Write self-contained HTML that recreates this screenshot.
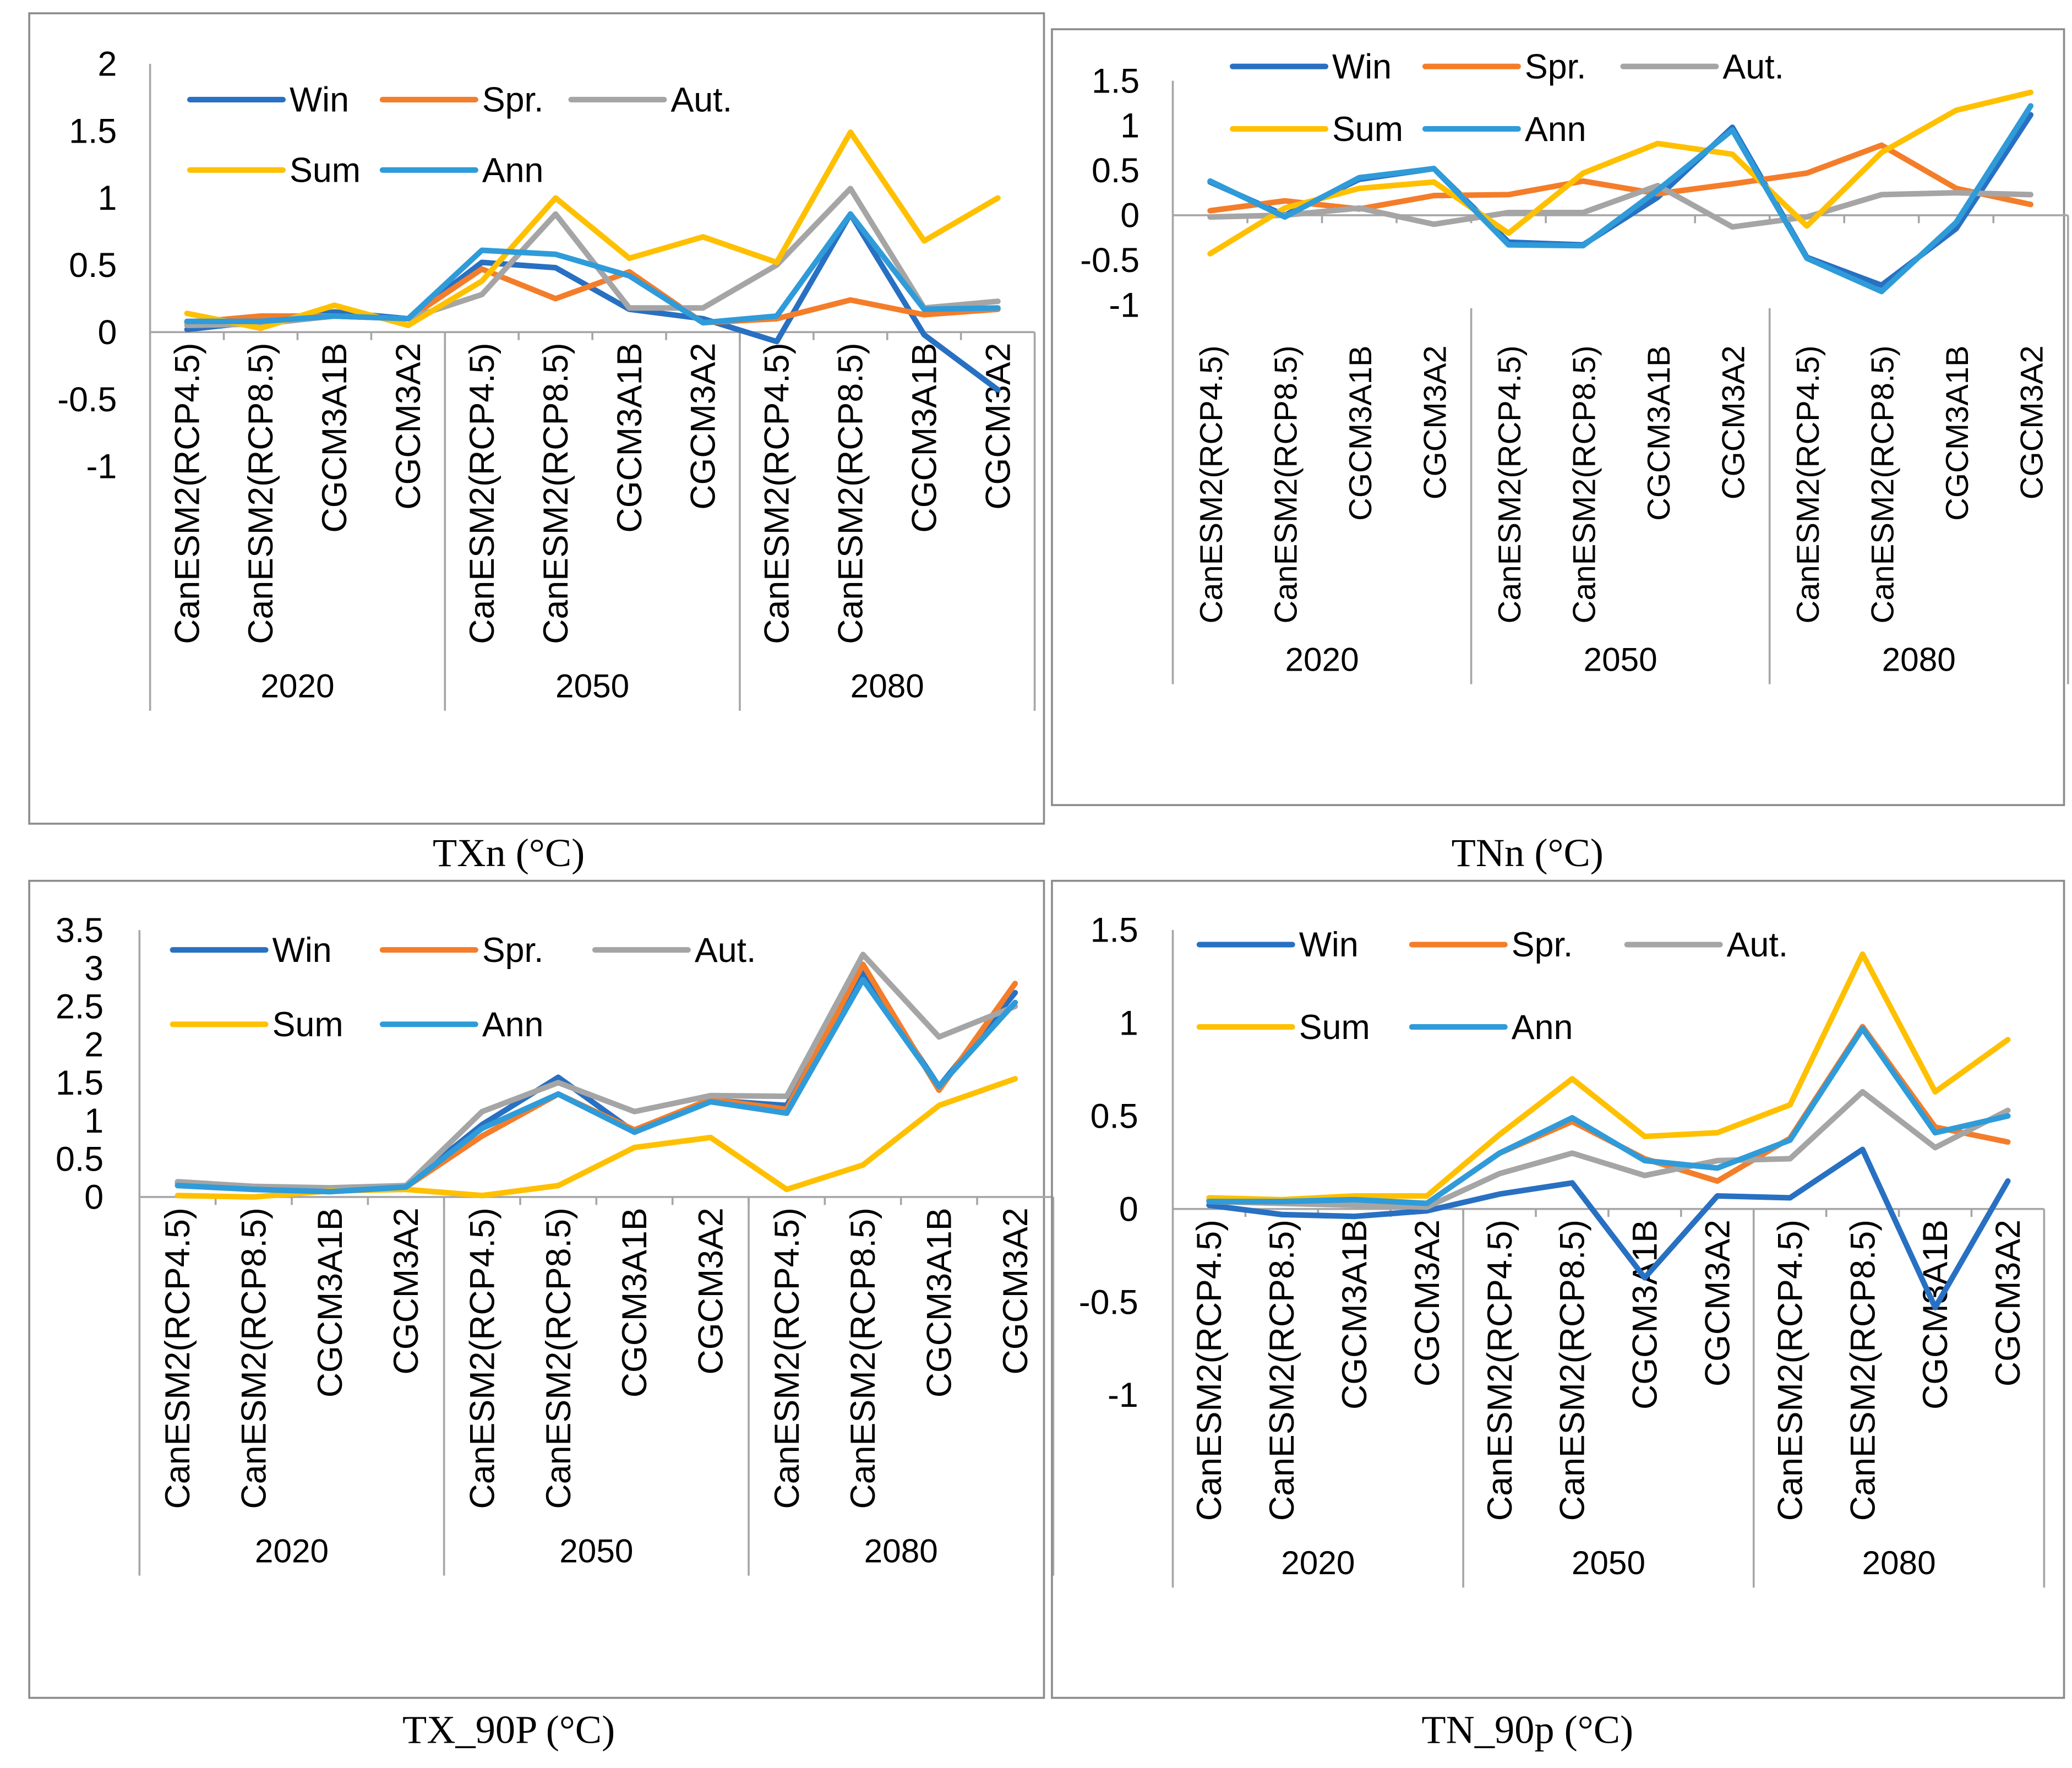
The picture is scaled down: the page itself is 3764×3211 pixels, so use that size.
<!DOCTYPE html>
<html><head><meta charset="utf-8"><style>
html,body{margin:0;padding:0;background:#fff;}
svg{display:block;}
.tick{font-family:"Liberation Sans",sans-serif;font-size:26px;fill:#000;}
.cat{font-family:"Liberation Sans",sans-serif;fill:#000;}
.grp{font-family:"Liberation Sans",sans-serif;font-size:25px;fill:#000;}
.leg{font-family:"Liberation Sans",sans-serif;font-size:26px;fill:#000;}
.title{font-family:"Liberation Serif",serif;font-size:30px;fill:#000;}
</style></head><body>
<svg id="root" width="3764" height="3211" viewBox="0 0 1560 1330.8" xmlns="http://www.w3.org/2000/svg">
<rect x="0" y="0" width="1560" height="1331" fill="#fff"/>
</svg>
<script>
const categories = ["CanESM2(RCP4.5)","CanESM2(RCP8.5)","CGCM3A1B","CGCM3A2","CanESM2(RCP4.5)","CanESM2(RCP8.5)","CGCM3A1B","CGCM3A2","CanESM2(RCP4.5)","CanESM2(RCP8.5)","CGCM3A1B","CGCM3A2"];
const groups = ["2020","2050","2080"];
const seriesNames = ["Win","Spr.","Aut.","Sum","Ann"];

const txnWin = [0.02,0.08,0.15,0.1,0.52,0.48,0.17,0.1,-0.07,0.88,-0.02,-0.43];
const txnSpr = [0.07,0.12,0.12,0.1,0.47,0.25,0.45,0.07,0.1,0.24,0.13,0.17];
const txnAut = [0.05,0.06,0.12,0.1,0.28,0.88,0.18,0.18,0.5,1.07,0.18,0.23];
const txnSum = [0.14,0.03,0.2,0.05,0.38,1.0,0.55,0.71,0.52,1.49,0.68,1.0];
const txnAnn = [0.08,0.08,0.12,0.1,0.61,0.58,0.42,0.07,0.12,0.88,0.17,0.18];
const txnTicks = ["2","1.5","1","0.5","0","-0.5","-1"];

const tnnWin = [0.37,0.0,0.4,0.52,-0.3,-0.33,0.2,0.98,-0.47,-0.78,-0.15,1.12];
const tnnSpr = [0.05,0.16,0.07,0.22,0.23,0.38,0.24,0.35,0.47,0.78,0.3,0.12];
const tnnAut = [-0.02,0.0,0.08,-0.1,0.03,0.03,0.33,-0.13,-0.02,0.23,0.25,0.23];
const tnnSum = [-0.43,0.08,0.3,0.37,-0.2,0.47,0.8,0.68,-0.12,0.7,1.17,1.37];
const tnnAnn = [0.38,-0.02,0.42,0.52,-0.33,-0.34,0.28,0.95,-0.48,-0.85,-0.08,1.22];
const tnnTicks = ["1.5","1","0.5","0","-0.5","-1"];

const tx90Win = [0.18,0.12,0.1,0.15,0.95,1.57,0.85,1.27,1.2,2.95,1.45,2.68];
const tx90Spr = [0.18,0.12,0.1,0.13,0.8,1.35,0.88,1.28,1.15,3.05,1.4,2.8];
const tx90Aut = [0.2,0.14,0.12,0.15,1.12,1.5,1.12,1.33,1.32,3.18,2.1,2.5];
const tx90Sum = [0.02,0.0,0.08,0.1,0.02,0.15,0.65,0.78,0.1,0.42,1.2,1.55];
const tx90Ann = [0.15,0.1,0.07,0.13,0.9,1.35,0.85,1.25,1.1,2.85,1.45,2.55];
const tx90Ticks = ["3.5","3","2.5","2","1.5","1","0.5","0"];

const tn90Win = [0.02,-0.03,-0.04,-0.01,0.08,0.14,-0.37,0.07,0.06,0.32,-0.53,0.15];
const tn90Spr = [0.05,0.04,0.04,0.03,0.3,0.47,0.27,0.15,0.38,0.98,0.44,0.36];
const tn90Aut = [0.04,0.03,0.02,0.01,0.19,0.3,0.18,0.26,0.27,0.63,0.33,0.53];
const tn90Sum = [0.06,0.05,0.07,0.07,0.4,0.7,0.39,0.41,0.56,1.37,0.63,0.91];
const tn90Ann = [0.04,0.04,0.05,0.03,0.3,0.49,0.26,0.22,0.37,0.97,0.41,0.5];
const tn90Ticks = ["1.5","1","0.5","0","-0.5","-1"];

const colors = ["#2870c2","#f47d2a","#a5a5a5","#ffc000","#2f9bd9"];
const NS = "http://www.w3.org/2000/svg";
const root = document.getElementById("root");
function mk(tag, attrs, parent){const e=document.createElementNS(NS,tag);for(const k in attrs)e.setAttribute(k,attrs[k]);(parent||root).appendChild(e);return e;}

function drawChart(cfg, series, ticks){
  const g = mk("g",{});
  
  
  const fr = mk("rect",{x:cfg.frame[0],y:cfg.frame[1],width:cfg.frame[2],height:cfg.frame[3],fill:"none",stroke:"#8c8c8c","stroke-width":1.5},g);
  
  
  const y = v => cfg.y0 - v*cfg.ppu;
  const n = categories.length;
  const cw = (cfg.x1-cfg.x0)/n;
  const x = i => cfg.x0 + cw*(i+0.5);
  const labTop = cfg.labTop !== undefined ? cfg.labTop : y(0);
  const sepTop = cfg.sepTop !== undefined ? cfg.sepTop : y(0);
  ticks.forEach(t=>{
    const tx = mk("text",{x:cfg.tickX,y:y(parseFloat(t))+9,"text-anchor":"end",class:"tick"},g);
    tx.textContent=t;
    
    
  });
  const ax = mk("line",{x1:cfg.x0,x2:cfg.x0,y1:y(parseFloat(ticks[0])),y2:cfg.sepBottom,stroke:"#a6a6a6","stroke-width":1.5},g);
  
  
  const zl = mk("line",{x1:cfg.x0,x2:cfg.x1,y1:y(0),y2:y(0),stroke:"#a6a6a6","stroke-width":1.5},g);
  
  
  for(let i=1;i<n;i++){
    const tk = mk("line",{x1:cfg.x0+cw*i,x2:cfg.x0+cw*i,y1:y(0),y2:y(0)+6,stroke:"#a6a6a6","stroke-width":1.5},g);
    
    
  }
  for(let k=1;k<=groups.length;k++){
    const sx = cfg.x0 + cw*4*k;
    const sl = mk("line",{x1:sx,x2:sx,y1:(k===groups.length?y(0):sepTop),y2:cfg.sepBottom,stroke:"#a6a6a6","stroke-width":1.5},g);
    
    
  }
  groups.forEach((gname,k)=>{
    const gx = cfg.x0 + cw*(4*k+2);
    const t = mk("text",{x:gx,y:cfg.groupY,"text-anchor":"middle",class:"grp"},g);
    t.textContent=gname;
    
    
  });
  categories.forEach((c,i)=>{
    const t = mk("text",{transform:`translate(${x(i)+9},${labTop+8}) rotate(-90)`,"text-anchor":"end",class:"cat","font-size":cfg.catSize},g);
    t.textContent=c;
    
    
  });
  series.forEach((vals,s)=>{
    const pts = vals.map((v,i)=>x(i).toFixed(1)+","+y(v).toFixed(1)).join(" ");
    const pl = mk("polyline",{points:pts,fill:"none",stroke:colors[s],"stroke-width":4.2,"stroke-linejoin":"round","stroke-linecap":"round"},g);
    
    
  });
  seriesNames.forEach((nm,s)=>{
    const col = s%3, row = Math.floor(s/3);
    const lx = cfg.leg[0] + cfg.legDx[col], ly = cfg.leg[1] + row*cfg.legDy;
    const le = mk("g",{},g);
    
    
    mk("line",{x1:lx,x2:lx+70,y1:ly,y2:ly,stroke:colors[s],"stroke-width":4.2,"stroke-linecap":"round"},le);
    const t = mk("text",{x:lx+75,y:ly+9,class:"leg"},le);
    t.textContent=nm;
  });
  const tt = mk("text",{x:cfg.title[0],y:cfg.title[1],"text-anchor":"middle",class:"title"},g);
  tt.textContent=cfg.titleText;
  
  
}

drawChart({name:"txn-chart",frame:[22,10,764,610],x0:113,x1:779,y0:250,ppu:101,tickX:88,sepBottom:535,groupY:525,catSize:26,
  leg:[143,75],legDx:[0,145,287],legDy:53,title:[383,652],titleText:"TXn (°C)"},
  [txnWin,txnSpr,txnAut,txnSum,txnAnn], txnTicks);
drawChart({name:"tnn-chart",frame:[792,22,762,584],x0:883,x1:1557,y0:162,ppu:67.5,tickX:858,sepBottom:515,groupY:505,catSize:24,
  labTop:252,sepTop:232,
  leg:[928,50],legDx:[0,145,294],legDy:47,title:[1150,652],titleText:"TNn (°C)"},
  [tnnWin,tnnSpr,tnnAut,tnnSum,tnnAnn], tnnTicks);
drawChart({name:"tx90p-chart",frame:[22,663,764,615],x0:105,x1:793,y0:901,ppu:57.4,tickX:78,sepBottom:1186,groupY:1176,catSize:26,
  leg:[130,715],legDx:[0,158,318],legDy:56,title:[383,1312],titleText:"TX_90P (°C)"},
  [tx90Win,tx90Spr,tx90Aut,tx90Sum,tx90Ann], tx90Ticks);
drawChart({name:"tn90p-chart",frame:[792,663,762,615],x0:883,x1:1539,y0:910,ppu:140,tickX:857,sepBottom:1195,groupY:1185,catSize:26,
  leg:[903,711],legDx:[0,160,322],legDy:62,title:[1150,1312],titleText:"TN_90p (°C)"},
  [tn90Win,tn90Spr,tn90Aut,tn90Sum,tn90Ann], tn90Ticks);
</script>
</body></html>
